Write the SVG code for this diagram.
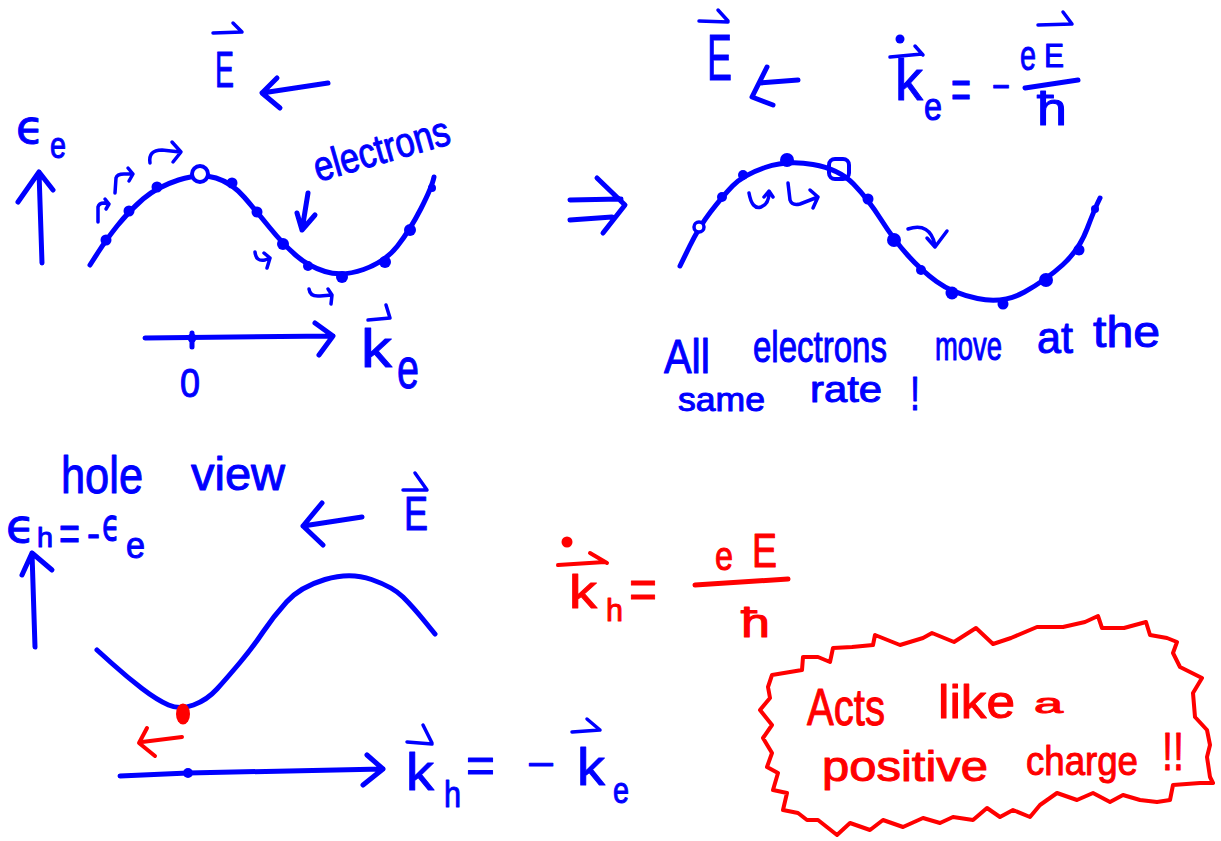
<svg xmlns="http://www.w3.org/2000/svg" width="1221" height="841" viewBox="0 0 1221 841">
<style>
.b{stroke:#0000ff;fill:none;stroke-width:5;stroke-linecap:round;stroke-linejoin:round}
.bt{stroke:#0000ff;fill:none;stroke-width:3.5;stroke-linecap:round;stroke-linejoin:round}
.r{stroke:#ff0000;fill:none;stroke-width:5;stroke-linecap:round;stroke-linejoin:round}
.rt{stroke:#ff0000;fill:none;stroke-width:4;stroke-linecap:round;stroke-linejoin:round}
.db{fill:#0000ff}
.dr{fill:#ff0000}
text{font-family:"Liberation Sans","DejaVu Sans",sans-serif;stroke-width:1;stroke-linejoin:round}
.tb{fill:#0000ff;stroke:#0000ff}
.tr{fill:#ff0000;stroke:#ff0000}
.g{font-family:"DejaVu Sans","Liberation Sans",sans-serif}
</style>
<rect width="1221" height="841" fill="#ffffff"/>

<g id="panel-electrons">
  <text class="tb" x="215" y="87" font-size="50" textLength="19" lengthAdjust="spacingAndGlyphs">E</text>
  <path class="bt" d="M213,33 L242,32 M233,23 L242,32"/>
  <path class="b" d="M328,83 L262,93 M277,78 L262,93 L280,108"/>
  <text class="tb g" x="16" y="143" font-size="46" textLength="28" lengthAdjust="spacingAndGlyphs">ϵ</text>
  <text class="tb" x="50" y="158" font-size="36" textLength="16" lengthAdjust="spacingAndGlyphs">e</text>
  <path class="b" d="M42,263 L39,172 M18,202 L39,172 L53,190"/>
  <path class="b" d="M90,265 L98,252.5 Q106,240 117.5,225.5 Q129,211 143,199 Q157,187 178.5,180 Q200,173 216,178 Q232,183 244.5,197.5 Q257,212 270,228 Q283,244 295.5,255 Q308,266 325,271.5 Q342,277 363.5,269.5 Q385,262 397.5,246 Q410,230 421,208.5 Q432,187 434,177"/>
  <g class="db">
    <circle cx="106" cy="240" r="5.5"/><circle cx="129" cy="211" r="5.5"/><circle cx="157" cy="187" r="5.5"/>
    <circle cx="232" cy="183" r="5.5"/><circle cx="257" cy="212" r="5.5"/><circle cx="283" cy="244" r="6"/>
    <circle cx="308" cy="266" r="5"/><circle cx="342" cy="277" r="6"/><circle cx="385" cy="262" r="6"/>
    <circle cx="410" cy="230" r="6"/><circle cx="432" cy="188" r="4"/>
  </g>
  <circle cx="200" cy="174" r="8" fill="#ffffff" stroke="#0000ff" stroke-width="4"/>
  <path class="bt" d="M98,222 L98,207 Q99,203 104,203 L109,204 M105,199 L109,204 L106,209"/>
  <path class="bt" d="M115,193 L116,178 Q117,174 124,174 L133,174 M128,168 L133,174 L129,181"/>
  <path class="bt" d="M150,163 Q148,150 162,150 L180,152 M172,142 L181,152 L173,162"/>
  <path class="bt" d="M255,252 Q256,262 265,260 L270,258 M264,253 L270,258 L267,268"/>
  <path class="bt" d="M309,289 Q310,297 320,296 L332,295 M328,289 L332,295 L331,304"/>
  <text class="tb" transform="translate(318,182) rotate(-16)" font-size="42" textLength="140" lengthAdjust="spacingAndGlyphs">electrons</text>
  <path class="b" d="M308,193 L302,230 M297,213 L302,230 L315,215"/>
  <path class="b" d="M145,338 L333,336 M315,323 L333,336 L319,355 M192,333 L192,347"/>
  <circle class="db" cx="192" cy="338" r="4.5"/>
  <text class="tb" x="180" y="397" font-size="40" textLength="20" lengthAdjust="spacingAndGlyphs">0</text>
  <path class="bt" d="M368,320 L390,318 M386,305 L390,318"/>
  <text class="tb" x="361" y="367" font-size="54" textLength="31" lengthAdjust="spacingAndGlyphs">k</text>
  <text class="tb" x="397" y="388" font-size="58" textLength="22" lengthAdjust="spacingAndGlyphs">e</text>
</g>

<g id="panel-same-rate">
  <path class="b" d="M570,200 L621,199 M570,220 L612,217 M597,178 L625,205 L603,233"/>
  <text class="tb" x="707" y="80" font-size="64" textLength="25" lengthAdjust="spacingAndGlyphs">E</text>
  <path class="bt" d="M699,21 L728,22 M718,10 L728,21"/>
  <path class="b" d="M798,80 L760,83 M767,67 L752,97 L773,105"/>
  <circle class="db" cx="900" cy="39" r="4.5"/>
  <path class="bt" d="M890,57 L922,54 M915,46 L923,55"/>
  <text class="tb" x="895" y="100" font-size="58" textLength="28" lengthAdjust="spacingAndGlyphs">k</text>
  <text class="tb" x="924" y="120" font-size="38" textLength="18" lengthAdjust="spacingAndGlyphs">e</text>
  <text class="tb" x="951" y="108" font-size="55" textLength="20" lengthAdjust="spacingAndGlyphs">=</text>
  <text class="tb" x="992" y="100" font-size="40" textLength="18" lengthAdjust="spacingAndGlyphs">−</text>
  <text class="tb" x="1020" y="70" font-size="42" textLength="16" lengthAdjust="spacingAndGlyphs">e</text>
  <text class="tb" x="1044" y="67" font-size="34" textLength="20" lengthAdjust="spacingAndGlyphs">E</text>
  <path class="bt" d="M1038,25 L1072,24 M1063,12 L1072,24"/>
  <path class="b" d="M1025,88 L1078,80"/>
  <text class="tb" x="1037" y="125" font-size="46" textLength="30" lengthAdjust="spacingAndGlyphs">ħ</text>
  <path class="b" d="M680,266 L689.5,246.5 Q699,227 710.5,212 Q722,197 732.5,186 Q743,175 765,167.5 Q787,160 813,164.5 Q839,169 853.5,184 Q868,199 881,219.5 Q894,240 907.5,255 Q921,270 936.5,281.5 Q952,293 977.5,298.5 Q1003,304 1024.5,292 Q1046,280 1062.5,265 Q1079,250 1087,229 Q1095,208 1100,198"/>
  <g class="db">
    <circle cx="722" cy="197" r="5"/><circle cx="743" cy="175" r="5"/><circle cx="787" cy="160" r="7"/>
    <circle cx="868" cy="199" r="5.5"/><circle cx="894" cy="240" r="7"/><circle cx="921" cy="270" r="5"/>
    <circle cx="952" cy="293" r="6.5"/><circle cx="1003" cy="304" r="5.5"/><circle cx="1046" cy="280" r="7"/>
    <circle cx="1079" cy="250" r="5.5"/><circle cx="1095" cy="209" r="4"/>
  </g>
  <circle cx="699" cy="227" r="5" fill="#ffffff" stroke="#0000ff" stroke-width="3.5"/>
  <rect x="829" y="159" width="20" height="20" rx="6" fill="none" stroke="#0000ff" stroke-width="4"/>
  <path class="bt" d="M749,193 Q752,210 761,207 Q769,204 769,193 M764,197 L769,191 L773,197"/>
  <path class="bt" d="M788,183 L790,200 Q792,206 800,204 L818,197 M810,190 L818,197 L813,208"/>
  <path class="bt" d="M908,229 Q930,222 935,245 M927,238 L935,247 L947,231"/>
  <text class="tb" x="664" y="373" font-size="48" textLength="46" lengthAdjust="spacingAndGlyphs">All</text>
  <text class="tb" x="753" y="362" font-size="44" textLength="134" lengthAdjust="spacingAndGlyphs">electrons</text>
  <text class="tb" x="935" y="360" font-size="40" textLength="67" lengthAdjust="spacingAndGlyphs">move</text>
  <text class="tb" x="1037" y="353" font-size="44" textLength="36" lengthAdjust="spacingAndGlyphs">at</text>
  <text class="tb" x="1093" y="347" font-size="44" textLength="67" lengthAdjust="spacingAndGlyphs">the</text>
  <text class="tb" x="678" y="411" font-size="34" textLength="87" lengthAdjust="spacingAndGlyphs">same</text>
  <text class="tb" x="810" y="402" font-size="36" textLength="72" lengthAdjust="spacingAndGlyphs">rate</text>
  <text class="tb" x="910" y="410" font-size="48" textLength="10" lengthAdjust="spacingAndGlyphs">!</text>
</g>

<g id="panel-holes">
  <text class="tb" x="61" y="493" font-size="52" textLength="82" lengthAdjust="spacingAndGlyphs">hole</text>
  <text class="tb" x="191" y="490" font-size="46" textLength="94" lengthAdjust="spacingAndGlyphs">view</text>
  <text class="tb g" x="6" y="542" font-size="46" textLength="29" lengthAdjust="spacingAndGlyphs">ϵ</text>
  <text class="tb" x="37" y="547" font-size="28" textLength="16" lengthAdjust="spacingAndGlyphs">h</text>
  <text class="tb" x="59" y="550" font-size="50" textLength="21" lengthAdjust="spacingAndGlyphs">=</text>
  <text class="tb" x="87" y="547" font-size="40" textLength="13" lengthAdjust="spacingAndGlyphs">-</text>
  <text class="tb g" x="102" y="540" font-size="44" textLength="18" lengthAdjust="spacingAndGlyphs">ϵ</text>
  <text class="tb" x="126" y="558" font-size="36" textLength="19" lengthAdjust="spacingAndGlyphs">e</text>
  <path class="b" d="M35,647 L32,553 M22,575 L32,553 L52,570"/>
  <path class="b" d="M362,517 L303,526 M322,503 L303,526 L323,545"/>
  <text class="tb" x="404" y="530" font-size="48" textLength="24" lengthAdjust="spacingAndGlyphs">E</text>
  <path class="bt" d="M403,490 L427,490 M415,473 L427,490"/>
  <path class="b" d="M97,650 L112,663.5 Q127,677 142,688.5 Q157,700 168.5,705 Q180,710 193.5,705 Q207,700 217,689 Q227,678 240,662.5 Q253,647 263,632 Q273,617 286.5,602 Q300,587 325,579.5 Q350,572 371.5,579.5 Q393,587 403,597 Q413,607 424,620.5 L435,634"/>
  <ellipse class="dr" cx="183" cy="714" rx="7" ry="10.5"/>
  <path class="rt" d="M182,737 L142,742 M147,728 L139,743 L155,756"/>
  <path class="b" d="M120,776 L188,773 L383,769 M367,755 L383,769 L363,785"/>
  <circle class="db" cx="188" cy="773" r="5"/>
  <path class="bt" d="M407,742 L432,744 M423,725 L432,743"/>
  <text class="tb" x="406" y="790" font-size="52" textLength="28" lengthAdjust="spacingAndGlyphs">k</text>
  <text class="tb" x="444" y="807" font-size="36" textLength="17" lengthAdjust="spacingAndGlyphs">h</text>
  <text class="tb" x="466" y="782" font-size="50" textLength="29" lengthAdjust="spacingAndGlyphs">=</text>
  <text class="tb" x="527" y="778" font-size="40" textLength="28" lengthAdjust="spacingAndGlyphs">−</text>
  <path class="bt" d="M572,732 L600,730 M587,719 L600,730"/>
  <text class="tb" x="577" y="785" font-size="52" textLength="28" lengthAdjust="spacingAndGlyphs">k</text>
  <text class="tb" x="613" y="803" font-size="36" textLength="16" lengthAdjust="spacingAndGlyphs">e</text>
</g>

<g id="formula-hole">
  <circle class="dr" cx="567" cy="542" r="5.5"/>
  <path class="rt" d="M558,565 L605,562 M590,553 L607,563"/>
  <text class="tr" x="569" y="608" font-size="46" textLength="28" lengthAdjust="spacingAndGlyphs">k</text>
  <text class="tr" x="606" y="621" font-size="32" textLength="17" lengthAdjust="spacingAndGlyphs">h</text>
  <text class="tr" x="629" y="608" font-size="55" textLength="28" lengthAdjust="spacingAndGlyphs">=</text>
  <text class="tr" x="715" y="570" font-size="40" textLength="18" lengthAdjust="spacingAndGlyphs">e</text>
  <text class="tr" x="752" y="567" font-size="48" textLength="25" lengthAdjust="spacingAndGlyphs">E</text>
  <path class="r" d="M695,585 L788,579"/>
  <text class="tr" x="741" y="637" font-size="40" textLength="29" lengthAdjust="spacingAndGlyphs">ħ</text>
</g>

<g id="bubble">
  <path class="rt" d="M772,675 L790,672 L802,670 L803,657 L818,657 L830,662 L833,648 L852,647 L873,645 L875,635 L900,645 L923,638 L932,633 L954,642 L976,628 L993,644 L1011,638 L1037,627 L1063,627 L1085,622 L1098,616 L1102,628 L1124,628 L1146,622 L1150,635 L1167,638 L1177,642 L1173,653 L1180,667 L1202,678 L1193,693 L1195,717 L1207,730 L1210,745 L1207,757 L1210,777 L1213,783 L1200,783 L1173,785 L1170,800 L1157,802 L1140,800 L1123,795 L1110,802 L1093,793 L1077,800 L1057,793 L1040,805 L1030,817 L1013,810 L1000,817 L987,808 L973,820 L953,817 L940,823 L923,818 L903,827 L883,820 L870,830 L850,823 L837,835 L818,820 L807,820 L798,813 L783,810 L787,793 L773,790 L778,773 L767,767 L772,753 L763,738 L772,725 L760,710 L770,698 L768,687 Z"/>
  <text class="tr" x="807" y="725" font-size="52" textLength="78" lengthAdjust="spacingAndGlyphs">Acts</text>
  <text class="tr" x="938" y="718" font-size="46" textLength="77" lengthAdjust="spacingAndGlyphs">like</text>
  <text class="tr" x="1034" y="713" font-size="28" textLength="29" lengthAdjust="spacingAndGlyphs">a</text>
  <text class="tr" x="822" y="781" font-size="42" textLength="166" lengthAdjust="spacingAndGlyphs">positive</text>
  <text class="tr" x="1026" y="775" font-size="40" textLength="112" lengthAdjust="spacingAndGlyphs">charge</text>
  <text class="tr" x="1162" y="770" font-size="54" textLength="22" lengthAdjust="spacingAndGlyphs">!!</text>
</g>
</svg>
